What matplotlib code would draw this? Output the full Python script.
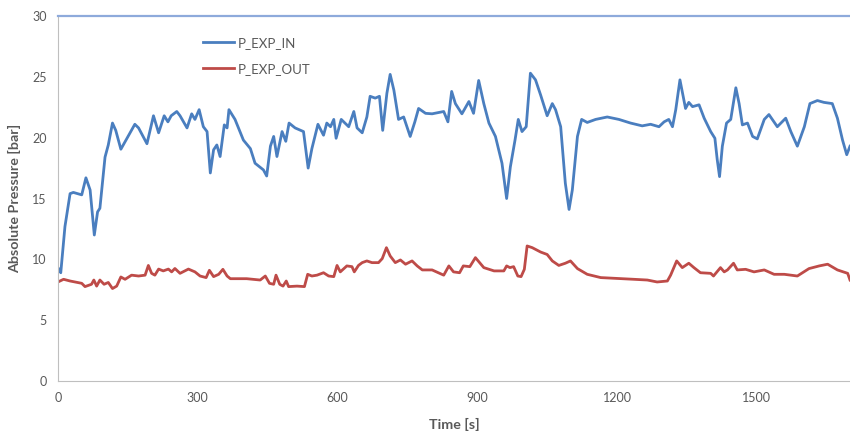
import matplotlib
matplotlib.use('Agg')
import matplotlib.pyplot as plt

plt.rcParams['font.family'] = ['Lato', 'DejaVu Sans']

# P_EXP_IN
t_in = [0, 2, 6, 15, 26, 33, 51, 60, 69, 78, 85, 90, 101, 108, 117, 124, 135, 146,
        165, 173, 191, 205, 216, 228, 236, 243, 255, 262, 277, 287, 294, 303, 312,
        320, 327, 334, 341, 348, 357, 363, 367, 380, 398, 413, 423, 441, 448, 456,
        463, 470, 481, 489, 496, 509, 527, 537, 545, 558, 570, 577, 585, 592, 597,
        608, 624, 635, 642, 653, 663, 670, 681, 690, 697, 706, 713, 721, 731, 742,
        756, 766, 774, 789, 803, 828, 837, 845, 853, 867, 882, 892, 903, 914, 925,
        939, 953, 963, 971, 981, 988, 996, 1005, 1014, 1025, 1036, 1050, 1061, 1068,
        1079, 1089, 1097, 1104, 1115, 1124, 1136, 1154, 1179, 1204, 1229, 1254, 1272,
        1290, 1301, 1311, 1319, 1326, 1335, 1342, 1347, 1354, 1362, 1376, 1387, 1401,
        1410, 1415, 1420, 1426, 1435, 1444, 1455, 1462, 1469, 1480, 1491, 1501, 1516,
        1526, 1544, 1562, 1573, 1587, 1602, 1614, 1630, 1644, 1662, 1673, 1684, 1693,
        1700]
p_in = [9.3, 9.2, 8.9, 12.7, 15.4, 15.5, 15.3, 16.7, 15.7, 12.0, 13.9, 14.2, 18.4,
        19.4, 21.2, 20.6, 19.05, 19.8, 21.1, 20.8, 19.5, 21.8, 20.4, 21.8, 21.3, 21.8,
        22.15, 21.8, 20.8, 21.96, 21.5, 22.3, 20.9, 20.5, 17.1, 19.0, 19.4, 18.45, 21.05,
        20.8, 22.3, 21.5, 19.8, 19.1, 17.9, 17.35, 16.85, 19.3, 20.1, 18.45, 20.5, 19.7,
        21.2, 20.8, 20.5, 17.5, 19.1, 21.1, 20.2, 21.2, 20.9, 21.5, 19.95, 21.5, 20.9,
        22.15, 20.8, 20.4, 21.7, 23.4, 23.25, 23.4, 20.6, 23.65, 25.2, 23.9, 21.5, 21.7,
        20.1, 21.3, 22.4, 22.0, 21.96, 22.15, 21.3, 23.8, 22.8, 21.96, 22.97, 22.0, 24.7,
        22.8, 21.2, 20.1, 17.9, 15.0, 17.6, 19.8, 21.5, 20.5, 20.9, 25.3, 24.75, 23.5,
        21.8, 22.8, 22.3, 20.9, 16.25, 14.1, 15.7, 20.1, 21.5, 21.25, 21.5, 21.7, 21.5,
        21.2, 20.97, 21.1, 20.9, 21.3, 21.5, 20.9, 22.3, 24.75, 23.4, 22.4, 22.9, 22.55,
        22.7, 21.6, 20.5, 19.95, 18.2, 16.8, 19.3, 21.2, 21.5, 24.1, 22.8, 21.05, 21.2,
        20.1, 19.9, 21.5, 21.9, 20.9, 21.6, 20.5, 19.3, 20.9, 22.8, 23.05, 22.9, 22.8,
        21.6, 19.8, 18.6, 19.3]

# P_EXP_OUT
t_out = [0, 12, 26, 51, 58, 72, 77, 83, 90, 99, 108, 117, 126, 135, 144, 158, 173,
         187, 194, 201, 208, 216, 226, 237, 244, 251, 262, 280, 294, 305, 318, 325,
         334, 345, 354, 363, 370, 405, 434, 445, 454, 463, 468, 476, 483, 490, 495,
         513, 529, 536, 545, 556, 570, 581, 592, 599, 606, 620, 631, 636, 645, 653,
         663, 674, 688, 696, 705, 713, 724, 735, 746, 760, 771, 782, 803, 828, 839,
         849, 862, 870, 884, 896, 914, 936, 957, 963, 970, 978, 987, 994, 1001, 1007,
         1018, 1036, 1050, 1061, 1075, 1089, 1100, 1115, 1136, 1165, 1208, 1236, 1265,
         1286, 1308, 1315, 1328, 1340, 1347, 1354, 1365, 1379, 1401, 1407, 1422, 1430,
         1437, 1450, 1458, 1476, 1494, 1516, 1537, 1559, 1587, 1612, 1634, 1652, 1673,
         1695, 1700]
p_out = [8.14, 8.36, 8.22, 8.03, 7.76, 7.95, 8.3, 7.8, 8.3, 7.95, 8.1, 7.6, 7.8, 8.55,
         8.36, 8.7, 8.63, 8.7, 9.5, 8.85, 8.7, 9.2, 9.05, 9.2, 8.97, 9.25, 8.85, 9.2,
         8.97, 8.63, 8.5, 9.1, 8.58, 8.77, 9.18, 8.63, 8.41, 8.41, 8.3, 8.63, 8.03, 7.95,
         8.7, 7.95, 7.8, 8.22, 7.76, 7.8, 7.76, 8.77, 8.63, 8.7, 8.9, 8.63, 8.58, 9.5,
         8.97, 9.46, 9.4, 8.97, 9.5, 9.73, 9.87, 9.73, 9.73, 10.06, 10.96, 10.28, 9.73,
         9.95, 9.6, 9.87, 9.46, 9.13, 9.13, 8.7, 9.46, 8.97, 8.9, 9.46, 9.4, 10.14, 9.32,
         9.05, 9.05, 9.46, 9.32, 9.4, 8.63, 8.58, 9.18, 11.1, 10.96, 10.6, 10.4, 9.87,
         9.5, 9.68, 9.87, 9.24, 8.77, 8.5, 8.41, 8.36, 8.3, 8.14, 8.22, 8.7, 9.87, 9.32,
         9.5, 9.68, 9.32, 8.9, 8.85, 8.63, 9.32, 8.97, 9.13, 9.68, 9.13, 9.18, 8.97,
         9.13, 8.77, 8.77, 8.63, 9.24, 9.46, 9.6, 9.13, 8.85, 8.3]

fig = plt.figure(figsize=(8.5, 4.32), dpi=100)
ax = fig.add_axes([0.0682, 0.118, 0.9318, 0.845])

ax.plot(t_in, p_in, color='#4A7EBF', lw=2.0, label='P_EXP_IN')
ax.plot(t_out, p_out, color='#BE4B48', lw=2.0, label='P_EXP_OUT')

ax.set_xlim(0, 1700)
ax.set_ylim(0, 30)
ax.set_xticks([0, 300, 600, 900, 1200, 1500])
ax.set_yticks([0, 5, 10, 15, 20, 25, 30])
ax.tick_params(length=0, labelsize=9, colors='#595959', pad=8)

ax.spines['right'].set_visible(False)
ax.spines['left'].set_color('#BFBFBF')
ax.spines['bottom'].set_color('#BFBFBF')
ax.spines['top'].set_color('#8EAADB')
ax.spines['top'].set_linewidth(1.6)

ax.set_xlabel('Time [s]', fontsize=10.3, fontweight='bold', color='#595959', labelpad=10)
ax.set_ylabel('Absolute Pressure [bar]', fontsize=10.3, fontweight='bold', color='#595959', labelpad=8)

ax.legend(loc='upper left', bbox_to_anchor=(0.168, 0.975), frameon=False,
          fontsize=9.5, handlelength=2.35, handletextpad=0.3, labelspacing=1.05,
          labelcolor='#595959')

fig.savefig('out.png', dpi=100)
